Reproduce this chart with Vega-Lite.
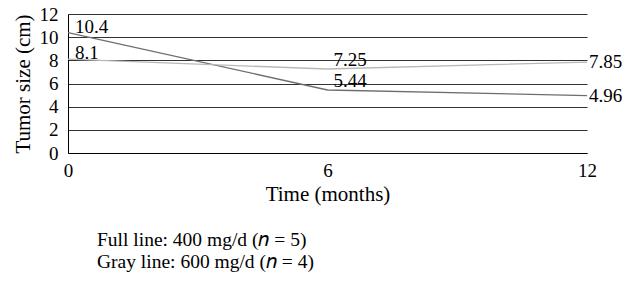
{
  "$schema": "https://vega.github.io/schema/vega-lite/v6.json",
  "autosize": {"type": "none"},
  "padding": {"left": 68, "top": 14, "right": 48, "bottom": 132},
  "width": 519,
  "height": 139,
  "background": "white",
  "config": {
    "view": {"stroke": null},
    "font": "Liberation Serif",
    "axis": {"labelFont": "Liberation Serif", "titleFont": "Liberation Serif", "labelColor": "black", "titleColor": "black", "titleFontWeight": "normal", "ticks": false, "domainColor": "black", "domainWidth": 1}
  },
  "title": {
    "text": ["Full line: 400 mg/d (𝑛 = 5)", "Gray line: 600 mg/d (𝑛 = 4)"],
    "orient": "bottom",
    "anchor": "start",
    "frame": "group",
    "dx": 29,
    "offset": 27,
    "font": "Liberation Serif",
    "fontSize": 19.5,
    "fontWeight": "normal",
    "color": "black",
    "lineHeight": 22
  },
  "data": {
    "values": [
      {"month": 0, "size": 10.4, "series": "Full line: 400 mg/d", "label": "10.4"},
      {"month": 6, "size": 5.44, "series": "Full line: 400 mg/d", "label": "5.44"},
      {"month": 12, "size": 4.96, "series": "Full line: 400 mg/d", "label": "4.96"},
      {"month": 0, "size": 8.1, "series": "Gray line: 600 mg/d", "label": "8.1"},
      {"month": 6, "size": 7.25, "series": "Gray line: 600 mg/d", "label": "7.25"},
      {"month": 12, "size": 7.85, "series": "Gray line: 600 mg/d", "label": "7.85"}
    ]
  },
  "encoding": {
    "x": {"field": "month", "type": "quantitative", "scale": {"domain": [0, 12], "nice": false},
      "axis": {"values": [0, 6, 12], "grid": false, "title": "Time (months)", "labelFontSize": 19, "titleFontSize": 21, "labelPadding": 8, "titlePadding": 3, "labelFlush": false}},
    "y": {"field": "size", "type": "quantitative", "scale": {"domain": [0, 12], "nice": false},
      "axis": {"values": [0, 2, 4, 6, 8, 10, 12], "grid": true, "gridColor": "#333", "gridWidth": 1, "gridOpacity": 1, "title": "Tumor size (cm)", "labelFontSize": 19, "titleFontSize": 21, "labelPadding": 10, "titlePadding": 6, "labelFlush": false}}
  },
  "layer": [
    {
      "mark": {"type": "line", "strokeWidth": 1.3},
      "encoding": {
        "color": {"field": "series", "type": "nominal", "scale": {"range": ["#6e6e6e", "#b8b8b8"]}, "legend": null}
      }
    },
    {
      "transform": [{"filter": "datum.month == 0"}],
      "mark": {"type": "text", "align": "left", "baseline": "alphabetic", "dx": 7, "dy": 0, "fontSize": 19, "font": "Liberation Serif", "color": "black"},
      "encoding": {"text": {"field": "label"}}
    },
    {
      "transform": [{"filter": "datum.month == 6"}],
      "mark": {"type": "text", "align": "left", "baseline": "alphabetic", "dx": 6, "dy": -3, "fontSize": 19, "font": "Liberation Serif", "color": "black"},
      "encoding": {"text": {"field": "label"}}
    },
    {
      "transform": [{"filter": "datum.month == 12"}],
      "mark": {"type": "text", "align": "left", "baseline": "middle", "dx": 2, "fontSize": 19, "font": "Liberation Serif", "color": "black"},
      "encoding": {"text": {"field": "label"}}
    }
  ]
}
